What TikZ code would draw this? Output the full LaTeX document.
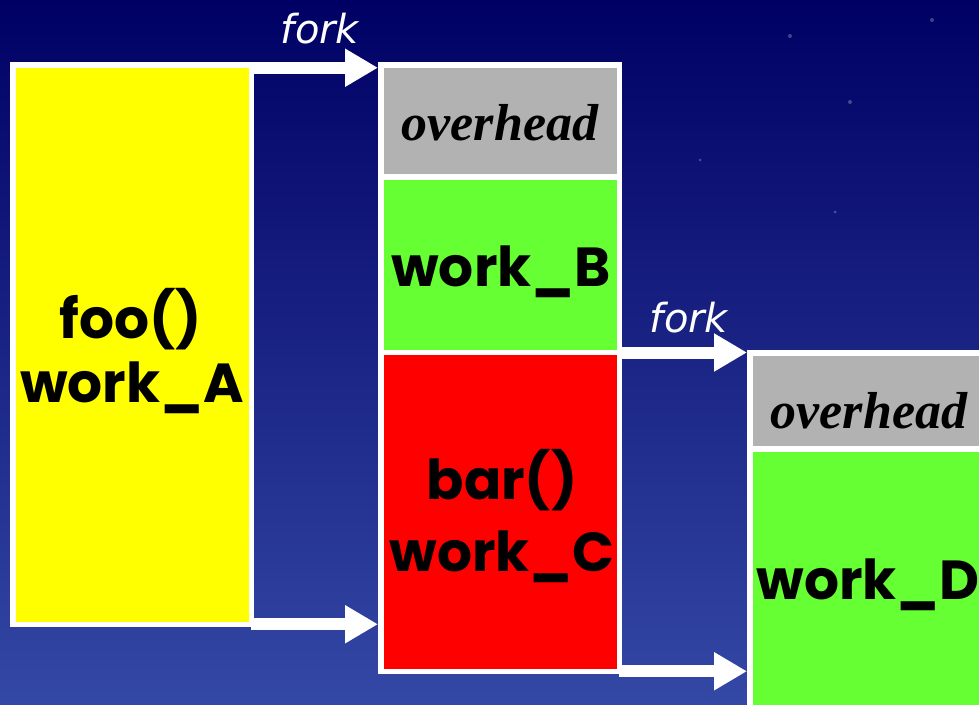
\documentclass[tikz,border=0pt]{standalone}
\usepackage{fontspec}
\setmainfont{Liberation Serif}
\newfontfamily\forkfont{DejaVu Sans}
\newfontfamily\comicfont{Poppins}
\usetikzlibrary{arrows.meta}
\definecolor{bgtop}{RGB}{0,0,100}
\definecolor{bgmid}{RGB}{12,28,125}
\definecolor{bgbot}{RGB}{52,72,165}
\definecolor{cyellow}{RGB}{255,255,0}
\definecolor{cgreen}{RGB}{102,255,51}
\definecolor{cred}{RGB}{255,0,0}
\definecolor{cgray}{RGB}{178,178,178}
\tikzset{
  cell/.style={draw=white, line width=5.5pt, inner sep=0pt, outer sep=0pt, rectangle},
  forkarrow/.style={draw=white, line width=12pt, -{Triangle[length=33pt,width=36pt]}},
  forklabel/.style={text=white, font=\forkfont\itshape\fontsize{40}{40}\selectfont, anchor=base, inner sep=0pt},
  ovlabel/.style={text=black, font=\bfseries\itshape\fontsize{52}{52}\selectfont, anchor=base, inner sep=0pt},
  worklabel/.style={text=black, font=\comicfont\bfseries\fontsize{55}{55}\selectfont, anchor=base, inner sep=0pt},
  star/.style={fill=white, opacity=0.25, circle, inner sep=0pt, minimum size=4pt}
}
\begin{document}
\begin{tikzpicture}[x=1pt,y=-1pt]
\useasboundingbox (0,0) rectangle (979,704);
\clip (0,0) rectangle (979,704);
\shade[top color=bgtop, middle color=bgmid, bottom color=bgbot] (0,0) rectangle (979,704);
% stars
\node[star] (s1) at (790,36) {};
\node[star] (s2) at (932,20) {};
\node[star] (s3) at (850,102) {};
\node[star, minimum size=3pt] (s4) at (835,212) {};
\node[star, minimum size=3pt] (s5) at (700,160) {};
% left column
\node[cell, fill=cyellow, minimum width=238.5pt, minimum height=559.5pt] (A) at (132,344.5) {};
% middle column
\node[cell, fill=cgray, minimum width=238.5pt, minimum height=112.25pt] (Bov) at (500,120.875) {};
\node[cell, fill=cgreen, minimum width=238.5pt, minimum height=175.5pt] (B) at (500,264.75) {};
\node[cell, fill=cred, minimum width=238.5pt, minimum height=318.75pt] (C) at (500,511.875) {};
% right column
\node[cell, fill=cgray, minimum width=238.5pt, minimum height=96.25pt] (Dov) at (869,400.875) {};
\node[cell, fill=cgreen, minimum width=238.5pt, minimum height=271pt] (D) at (869,584.5) {};
% arrows
\draw[forkarrow] ([yshift=-3pt]A.north east) -- ([yshift=-3pt,xshift=-2.75pt]A.north east -| Bov.west);
\draw[forkarrow] (A.south east) -- ([xshift=-2.75pt]A.south east -| C.west);
\draw[forkarrow] (B.south east) -- ([xshift=-2.75pt]B.south east -| Dov.west);
\draw[forkarrow] (C.south east) -- ([xshift=-2.75pt]C.south east -| D.west);
% labels
\node[forklabel] (f1) at (320,43) {fork};
\node[forklabel] (f2) at (689,332) {fork};
\node[ovlabel] (o1) at (500,140) {overhead};
\node[ovlabel] (o2) at (869,428) {overhead};
\node[worklabel] (tA1) at (131,338) {foo()};
\node[worklabel] (tA2) at (132,402) {work\_A};
\node[worklabel] (tB) at (501,286) {work\_B};
\node[worklabel] (tC1) at (502,499) {bar()};
\node[worklabel] (tC2) at (502,571) {work\_C};
\node[worklabel] (tD) at (868,599) {work\_D};
\end{tikzpicture}
\end{document}
